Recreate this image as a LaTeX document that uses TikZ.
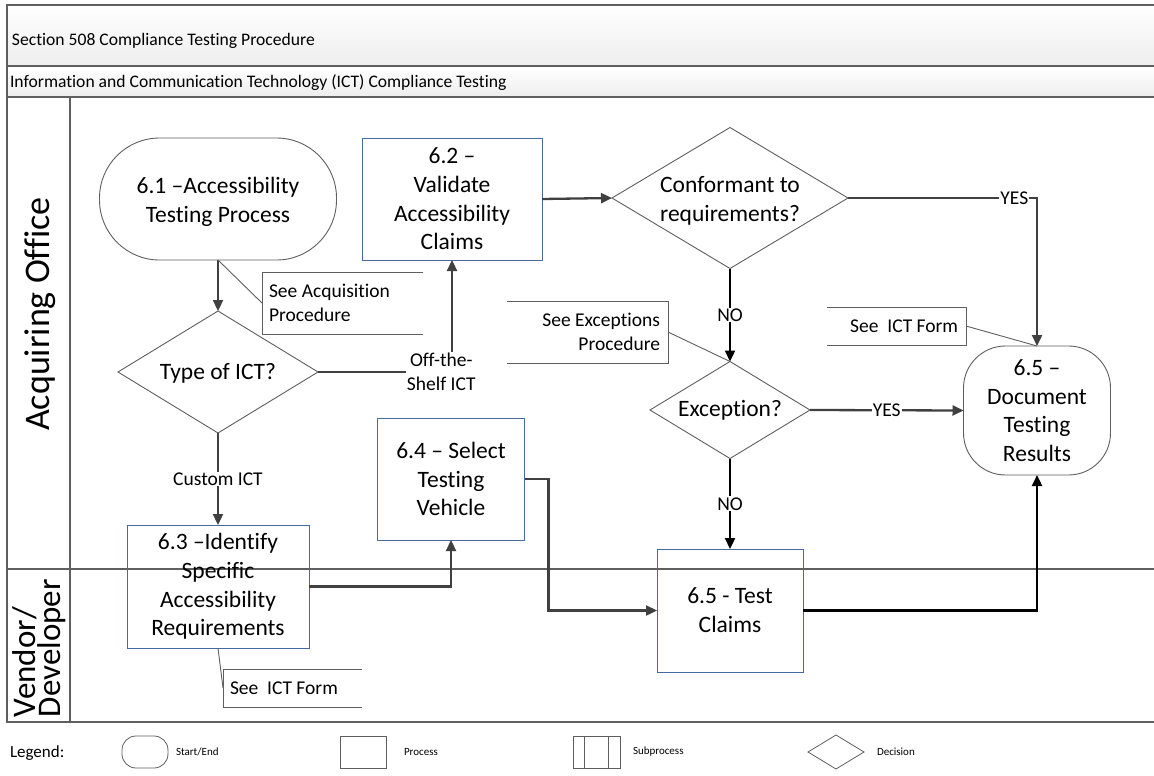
\documentclass[tikz,border=0pt]{standalone}
\usepackage{fontspec}
\setmainfont{Carlito}[Ligatures={NoCommon,NoContextual}]
\usetikzlibrary{shapes.geometric,arrows.meta,calc}
\definecolor{lineg}{RGB}{64,64,64}
\definecolor{shapeg}{RGB}{95,95,95}
\definecolor{procb}{RGB}{70,106,160}
\definecolor{poolg}{RGB}{95,95,95}
\begin{document}
\begin{tikzpicture}[x=1pt,y=-1pt,
  every node/.style={inner sep=0pt, outer sep=0pt},
  main/.style={font=\fontsize{23.5}{28.7}\selectfont, align=center},
  lbl/.style={font=\fontsize{19.5}{24}\selectfont, align=center, fill=white, inner sep=1pt},
  anno/.style={font=\fontsize{19.5}{24}\selectfont},
  proc/.style={draw=procb, line width=1pt, rectangle, main},
  term/.style={draw=shapeg, line width=0.9pt, rectangle, main},
  dec/.style={draw=shapeg, line width=0.9pt, diamond},
  conn/.style={draw=lineg, line width=2.3pt, -{Triangle[length=11pt,width=10pt]}},
  connb/.style={draw=black, line width=2.3pt, -{Triangle[length=11pt,width=10pt]}},
  annline/.style={draw=shapeg, line width=0.9pt},
  pool/.style={draw=poolg, line width=1.6pt},
  leg/.style={draw=shapeg, line width=0.8pt}
]
\useasboundingbox (0,0) rectangle (1154,776);
\fill[white] (0,0) rectangle (1154,776);

% pool
\shade[top color=white, bottom color=black!7] (7,5) rectangle (1154,66);
\shade[top color=white, bottom color=black!7] (7,66) rectangle (1154,97);
\draw[pool] (1154,5) -- (7,5) -- (7,722) -- (1154,722);
\draw[pool] (7,66) -- (1154,66);
\draw[pool] (7,97) -- (1154,97);
\draw[pool] (70,97) -- (70,722);
\draw[pool, line width=1.2pt] (7,569) -- (1154,569);
\node[anchor=west, font=\fontsize{17.6}{21}\selectfont] (title) at (12,41) {Section 508 Compliance Testing Procedure};
\node[anchor=west, font=\fontsize{17.6}{21}\selectfont] (sub) at (10,83) {Information and Communication Technology (ICT) Compliance Testing};
\node[rotate=90, font=\fontsize{36}{40}\selectfont] (lane1) at (40,314) {Acquiring Office};
\node[rotate=90, font=\fontsize{33}{24.5}\selectfont, align=left, anchor=north west] (lane2) at (13,717) {Vendor/\\Developer};

% nodes
\node[term, rounded corners=60pt, minimum width=237pt, minimum height=122pt] (s61) at (218,199) {};
\node[main] (s61t) at (218,202) {6.1 --Accessibility\\Testing Process};
\node[proc, minimum width=180pt, minimum height=122pt] (p62) at (452,199) {6.2 --\\Validate\\Accessibility\\Claims};
\node[dec, minimum width=236pt, minimum height=141pt] (c1) at (730,198) {};
\node[main] (c1t) at (730,201) {Conformant to\\requirements?};
\node[dec, minimum width=200pt, minimum height=122pt] (typ) at (218,372) {};
\node[main] (typt) at (218,373) {Type of ICT?};
\node[dec, minimum width=160pt, minimum height=97pt] (ex) at (730,410) {};
\node[main] (ext) at (730,410) {Exception?};
\node[term, rounded corners=42pt, minimum width=147pt, minimum height=129pt] (d65) at (1037,410.5) {6.5 --\\Document\\Testing\\Results};
\node[proc, minimum width=147pt, minimum height=122pt] (p64) at (451,479) {6.4 -- Select\\Testing\\Vehicle};
\node[proc, minimum width=182pt, minimum height=123pt] (p63) at (218,586.5) {6.3 --Identify\\Specific\\Accessibility\\Requirements};
\node[proc, minimum width=146pt, minimum height=123pt] (p65t) at (730,610.5) {};
\node[main] (p65tt) at (730,610) {6.5 - Test\\Claims};

% connectors
\draw[conn] (s61.south) -- (typ.north);
\draw[conn] (typ.east) -| node[lbl, pos=0.46] {Off-the-\\Shelf ICT} (p62.south);
\draw[conn] (typ.south) -- node[lbl] {Custom ICT} (p63.north);
\draw[conn] (p62.east) -- (c1.west);
\draw[conn] (c1.east) -| node[lbl, pos=0.44] {YES} (d65.north);
\draw[connb] (c1.south) -- node[lbl] {NO} (ex.north);
\draw[conn] (ex.east) -- node[lbl] {YES} (d65.west);
\draw[connb] (ex.south) -- node[lbl] {NO} (p65t.north);
\draw[conn] (p63.east) -| (p64.south);
\draw[conn] (p64.east) -- ++(24,0) |- (p65t.west);
\draw[connb] (p65t.east) -| (d65.south);

% annotations
\draw[annline] (423,272) -- (262,272) -- (262,334) -- (423,334);
\coordinate (aAcqL) at (262,303);
\node[anno, anchor=west, align=left] (aAcq) at (269,303) {See Acquisition\\Procedure};
\draw[annline] (s61.south) -- (aAcqL);

\draw[annline] (507,301) -- (668,301) -- (668,363) -- (507,363);
\coordinate (aExcR) at (668,332);
\node[anno, anchor=east, align=right] (aExc) at (660,332) {See Exceptions\\Procedure};
\draw[annline] (aExcR) -- (ex.north);

\draw[annline] (827,307) -- (966,307) -- (966,345) -- (827,345);
\coordinate (aIct1R) at (966,326);
\node[anno, anchor=east] (aIct1) at (958,326) {See\ \ ICT Form};
\draw[annline] (aIct1R) -- (d65.north);

\draw[annline] (362,669) -- (223,669) -- (223,707) -- (362,707);
\coordinate (aIct2L) at (223,688);
\node[anno, anchor=west] (aIct2) at (230,688) {See\ \ ICT Form};
\draw[annline] (p63.south) -- (aIct2L);

% legend
\node[anchor=west, font=\fontsize{17}{20}\selectfont] (legt) at (10,753) {Legend:};
\node[leg, rounded corners=14pt, minimum width=46pt, minimum height=32pt] (lse) at (145,752) {};
\node[anchor=west, font=\fontsize{11}{13}\selectfont] (lset) at (176,752) {Start/End};
\node[leg, minimum width=46pt, minimum height=32pt] (lpr) at (363,752) {};
\node[anchor=west, font=\fontsize{11}{13}\selectfont] (lprt) at (404,752) {Process};
\node[leg, minimum width=47pt, minimum height=32pt] (lsp) at (596.5,752) {};
\draw[leg] (584,736) -- (584,768) (608,736) -- (608,768);
\node[anchor=west, font=\fontsize{11}{13}\selectfont] (lspt) at (633,752) {Subprocess};
\node[leg, diamond, minimum width=56pt, minimum height=34pt] (lde) at (836,752) {};
\node[anchor=west, font=\fontsize{11}{13}\selectfont] (ldet) at (877,752) {Decision};
\end{tikzpicture}
\end{document}
